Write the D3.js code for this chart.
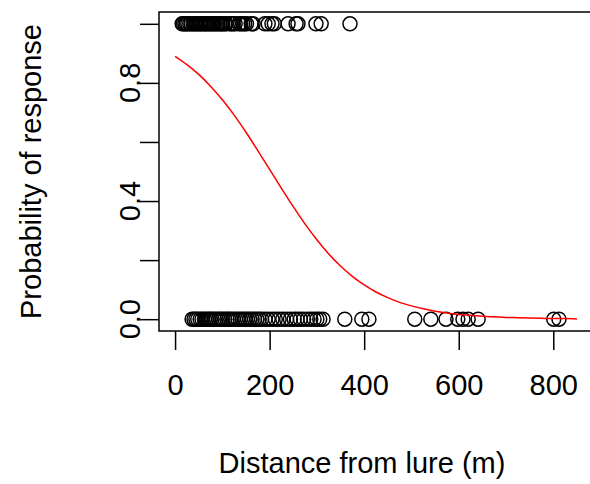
<!DOCTYPE html>
<html>
<head>
<meta charset="utf-8">
<script src="https://cdn.jsdelivr.net/npm/d3@7"></script>
<style>
  html, body { margin: 0; padding: 0; background: #fff; }
  svg { display: block; }
  text { font-family: "Liberation Sans", Arial, sans-serif; fill: #000; }
</style>
</head>
<body>
<div id="chart"></div>
<script>
// distances (m) of animals that responded (y = 1)
var respondedDist = [15, 18, 21, 24, 27, 31, 34, 38, 41, 44, 47, 51, 54, 57, 61, 64, 67, 71,
  74, 77, 81, 84, 88, 91, 95, 98, 101, 105, 108, 116, 119, 123, 127, 135, 139, 143, 147, 151,
  161, 165, 190, 197, 205, 210, 239, 256, 260, 298, 309, 370];
// distances (m) of animals that did not respond (y = 0)
var noResponseDist = [36, 40, 44, 48, 53, 57, 62, 66, 70, 74, 78, 83, 87, 92, 96, 100, 105,
  110, 114, 118, 123, 128, 133, 138, 143, 148, 153, 158, 163, 168, 173, 178, 183, 190, 197,
  205, 212, 220, 228, 236, 244, 252, 258, 265, 272, 280, 287, 294, 300, 306, 313,
  359, 395, 410, 507, 541, 573, 598, 609, 620, 641, 801, 812];
// fitted curve
var curveDist = [0, 25, 50, 75, 100, 125, 150, 175, 200, 225, 250, 275, 300, 325, 350, 375,
  400, 425, 450, 475, 500, 525, 550, 575, 600, 625, 650, 675, 700, 725, 750, 775, 800, 825, 850];
var curveProb = [0.890, 0.862, 0.829, 0.789, 0.743, 0.691, 0.633, 0.571, 0.507, 0.443, 0.381,
  0.322, 0.269, 0.221, 0.180, 0.145, 0.116, 0.092, 0.073, 0.057, 0.045, 0.035, 0.027, 0.021,
  0.016, 0.013, 0.010, 0.008, 0.006, 0.005, 0.004, 0.003, 0.002, 0.002, 0.001];
var xTicks = [0, 200, 400, 600, 800];
var yTicks = [0, 0.2, 0.4, 0.6, 0.8, 1.0];
var yTickLabels = [0, 0.4, 0.8];

(function() {
  var width = 590, height = 484;
  var mLeft = 159, mRight = 593, mTop = 12, mBottom = 331;
  var fontSize = 29;

  var svg = d3.select("#chart").append("svg")
      .attr("width", width)
      .attr("height", height);

  var x = d3.scaleLinear().domain([-34, 884]).range([mLeft, mRight]);
  var y = d3.scaleLinear().domain([-0.04, 1.04]).range([mBottom, mTop]);

  // x axis
  var xAxis = svg.append("g").attr("transform", "translate(0," + mBottom + ")")
      .call(d3.axisBottom(x).tickValues(xTicks).tickSize(19).tickPadding(0).tickFormat(d3.format("d")));
  xAxis.select(".domain").remove();
  xAxis.selectAll("line").attr("stroke", "#000").attr("stroke-width", 1.5);
  xAxis.selectAll("text").attr("font-size", fontSize).attr("y", 54).attr("dy", "0.35em")
      .attr("font-family", "Liberation Sans, Arial, sans-serif");

  // y axis
  var yAxis = svg.append("g").attr("transform", "translate(" + mLeft + ",0)")
      .call(d3.axisLeft(y).tickValues(yTicks).tickSize(19).tickFormat(""));
  yAxis.select(".domain").remove();
  yAxis.selectAll("line").attr("stroke", "#000").attr("stroke-width", 1.5);

  svg.selectAll("text.ylab")
    .data(yTickLabels)
    .enter().append("text")
      .attr("class", "ylab")
      .attr("transform", function(d) { return "translate(130," + y(d) + ") rotate(-90)"; })
      .attr("text-anchor", "middle")
      .attr("dy", "0.35em")
      .attr("font-size", fontSize)
      .text(function(d) { return d3.format(".1f")(d); });

  // box
  svg.append("rect")
      .attr("x", mLeft).attr("y", mTop)
      .attr("width", mRight - mLeft).attr("height", mBottom - mTop)
      .attr("fill", "none").attr("stroke", "#000").attr("stroke-width", 1.5);

  // points
  var pts = respondedDist.map(function(d) { return {d: d, r: 1}; })
    .concat(noResponseDist.map(function(d) { return {d: d, r: 0}; }));
  svg.append("g").selectAll("circle")
    .data(pts)
    .enter().append("circle")
      .attr("cx", function(p) { return x(p.d); })
      .attr("cy", function(p) { return y(p.r); })
      .attr("r", 7)
      .attr("fill", "none")
      .attr("stroke", "#000")
      .attr("stroke-width", 1.5);

  // fitted curve
  var line = d3.line()
      .x(function(d, i) { return x(curveDist[i]); })
      .y(function(d) { return y(d); })
      .curve(d3.curveMonotoneX);
  svg.append("path")
      .datum(curveProb)
      .attr("d", line)
      .attr("fill", "none")
      .attr("stroke", "#ff0000")
      .attr("stroke-width", 1.5);

  // axis titles
  svg.append("text")
      .attr("x", 362)
      .attr("y", 463)
      .attr("dy", "0.35em")
      .attr("text-anchor", "middle")
      .attr("font-size", fontSize)
      .text("Distance from lure (m)");

  svg.append("text")
      .attr("transform", "translate(31," + (mTop + mBottom) / 2 + ") rotate(-90)")
      .attr("dy", "0.35em")
      .attr("text-anchor", "middle")
      .attr("font-size", fontSize)
      .text("Probability of response");
})();
</script>
</body>
</html>
